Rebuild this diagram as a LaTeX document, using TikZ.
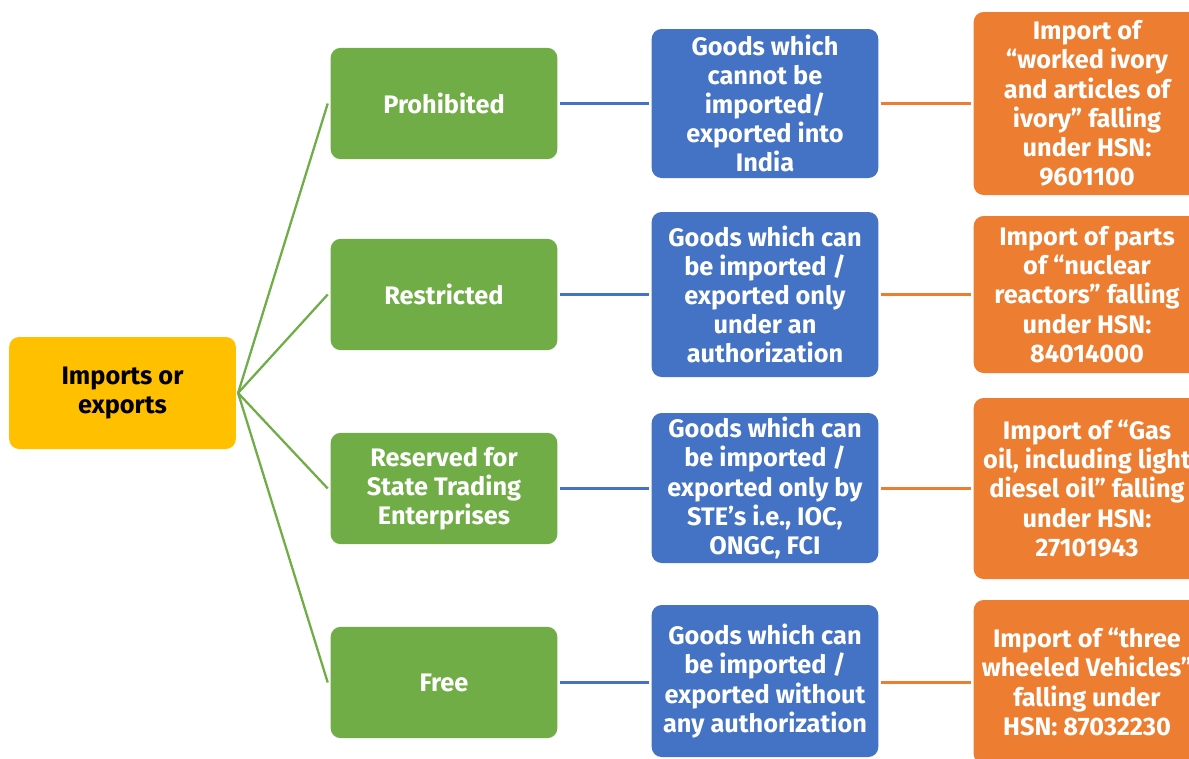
\documentclass[tikz,border=0pt]{standalone}
\usepackage{fontspec}
\setmainfont{Fira Sans}
\definecolor{rootyellow}{HTML}{FFC000}
\definecolor{catgreen}{HTML}{70AD47}
\definecolor{descblue}{HTML}{4472C4}
\definecolor{exorange}{HTML}{ED7D31}
\begin{document}
\begin{tikzpicture}[x=0.75pt,y=-0.75pt,
  box/.style={rounded corners=7.5pt, minimum width=170pt, inner sep=0pt,
    align=center, font=\fontsize{19}{21.9}\selectfont\bfseries, text=white},
  rootbox/.style={box, fill=rootyellow, text=black, minimum height=84pt},
  catbox/.style={box, fill=catgreen, minimum height=83.5pt},
  descbox/.style={box, fill=descblue},
  exbox/.style={box, fill=exorange},
  greenlink/.style={draw=catgreen, line width=1.7pt},
  bluelink/.style={draw=descblue, line width=1.7pt},
  orangelink/.style={draw=exorange, line width=1.7pt}]
\useasboundingbox (0,0) rectangle (1189,758);
\clip (0,0) rectangle (1189,758);
\fill[white] (0,0) rectangle (1189,758);

% root
\node[rootbox] (root) at (122.5,393) {Imports or\\exports};

% categories
\node[catbox] (c1) at (444,103.5) {Prohibited};
\node[catbox] (c2) at (444,294.5) {Restricted};
\node[catbox] (c3) at (444,488.5) {Reserved for\\State Trading\\Enterprises};
\node[catbox] (c4) at (444,682.5) {Free};

% descriptions
\node[descbox, minimum height=111.75pt] (d1) at (765,103.5)
  {Goods which\\cannot be\\imported/\\exported into\\India};
\node[descbox, minimum height=123.75pt] (d2) at (765,294.5)
  {Goods which can\\be imported /\\exported only\\under an\\authorization};
\node[descbox, minimum height=112.5pt] (d3) at (765,488)
  {Goods which can\\be imported /\\exported only by\\STE’s i.e., IOC,\\ONGC, FCI};
\node[descbox, minimum height=114pt] (d4) at (765,681)
  {Goods which can\\be imported /\\exported without\\any authorization};

% examples
\node[exbox, minimum height=137.25pt] (e1) at (1087,103.5)
  {Import of\\“worked ivory\\and articles of\\ivory” falling\\under HSN:\\9601100};
\node[exbox, minimum height=117.75pt] (e2) at (1087,294.5)
  {Import of parts\\of “nuclear\\reactors” falling\\under HSN:\\84014000};
\node[exbox, minimum height=135.75pt] (e3) at (1087,488.5)
  {Import of “Gas\\oil, including light\\diesel oil” falling\\under HSN:\\27101943};
\node[exbox, minimum height=123pt] (e4) at (1087,682)
  {Import of “three\\wheeled Vehicles”\\falling under\\HSN: 87032230};

% connectors
\foreach \i in {1,2,3,4}{
  \draw[greenlink] ([xshift=1.5pt]root.east) -- ([xshift=-2pt]c\i.west);
  \draw[bluelink] ([xshift=1.5pt]c\i.east) -- ([xshift=-1.5pt]d\i.west |- c\i.east);
  \draw[orangelink] ([xshift=1.5pt]d\i.east |- c\i.east) -- ([xshift=-2pt]e\i.west |- c\i.east);
}
\end{tikzpicture}
\end{document}
